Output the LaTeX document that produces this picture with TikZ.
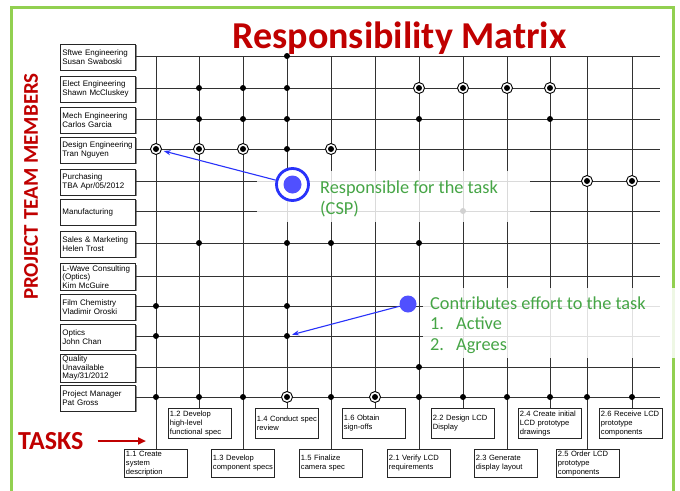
\documentclass[tikz,border=0pt]{standalone}
\usepackage{fontspec}
\setmainfont{Liberation Sans}
\newfontfamily\calfont{Carlito}
\usetikzlibrary{arrows.meta,shadows}
\definecolor{ttred}{RGB}{192,0,0}
\definecolor{bordergreen}{RGB}{146,208,80}
\definecolor{leggreen}{RGB}{70,165,70}
\definecolor{legblue}{RGB}{80,80,255}
\definecolor{ringblue}{RGB}{40,50,250}
\definecolor{gridgray}{RGB}{50,50,50}
\begin{document}
\begin{tikzpicture}[x=1pt,y=-1pt,
  lblbox/.style={draw=black!85, line width=0.8pt, fill=white,
    drop shadow={shadow xshift=1.2pt, shadow yshift=-1.2pt, fill=black!45, opacity=1},
    minimum width=75pt, minimum height=26pt, inner sep=1.5pt, text width=71pt,
    align=left, font=\fontsize{8}{8.8}\selectfont, anchor=west},
  taskbox/.style={draw=black!85, line width=0.9pt, fill=white, minimum width=63pt,
    text width=60pt, inner sep=1.5pt, align=left,
    font=\fontsize{7.6}{9}\selectfont, anchor=north west},
  gridline/.style={draw=gridgray, line width=0.95pt},
  sdot/.style={circle, fill=black, inner sep=0pt, minimum size=6pt},
  rdot/.style={circle, draw=black, line width=0.9pt, fill=white, inner sep=0pt,
    minimum size=11pt, path picture={\fill[black] (path picture bounding box.center) circle (3pt);}},
  legtext/.style={anchor=base west, text=leggreen, inner sep=0pt,
    font=\calfont\fontsize{18.3}{21}\selectfont},
  legarrow/.style={draw=ringblue, line width=1.1pt, -{Stealth[length=7pt,width=5pt]}},
]
\useasboundingbox (0,0) rectangle (680,490);
\fill[white] (0,0) rectangle (680,490);

% border
\draw[bordergreen, line width=3pt] (11,495) -- (11,7) -- (673,7) -- (673,495);

% title and side labels
\node[anchor=base, text=ttred, inner sep=0pt, font=\calfont\bfseries\fontsize{38}{38}\selectfont] (title) at (399.5,48) {Responsibility Matrix};
\node[rotate=90, text=ttred, inner sep=0pt, font=\calfont\bfseries\fontsize{21}{21}\selectfont] (members) at (31,186.5) {PROJECT TEAM MEMBERS};
\node[anchor=west, text=ttred, inner sep=0pt, font=\calfont\bfseries\fontsize{26}{26}\selectfont] (tasks) at (18,441) {TASKS};
\coordinate (tasksend) at (146,441);
\draw[ttred, line width=2.3pt, shorten <=14pt, -{Triangle[length=8pt,width=7pt]}] (tasks.east) -- (tasksend);

% grid coordinates
\foreach \r/\y in {1/56,2/88,3/119,4/149,5/181,6/211,7/243,8/276,9/306,10/336,11/367,12/397}{
  \coordinate (hend\r) at (660,\y);
  \foreach \c/\x in {1/156,2/199,3/243,4/287,5/331,6/375,7/419,8/463,9/507,10/550,11/587,12/632}{
    \coordinate (g\r-\c) at (\x,\y);
  }
}

% task boxes
\foreach \c/\lx/\ty/\h/\txt in {
  1/124/449/28/{1.1 Create\\system\\description},
  2/168/408/30/{1.2 Develop\\high-level\\functional spec},
  3/211/449/28/{1.3 Develop\\component specs},
  4/255/408/30/{1.4 Conduct spec\\review},
  5/299/449/28/{1.5 Finalize\\camera spec},
  6/342/408/30/{1.6 Obtain\\sign-offs},
  7/387/449/28/{2.1 Verify LCD\\requirements},
  8/431/408/30/{2.2 Design LCD\\Display},
  9/474/449/28/{2.3 Generate\\display layout},
  10/518/408/30/{2.4 Create initial\\LCD prototype\\drawings},
  11/556/449/28/{2.5 Order LCD\\prototype\\components},
  12/599/408/30/{2.6 Receive LCD\\prototype\\components}}{
  \node[taskbox, minimum height=\h pt] (task\c) at (\lx,\ty) {\txt};
}

% label boxes
\foreach \r/\txt in {
  1/{Sftwe Engineering\\Susan Swaboski},
  2/{Elect Engineering\\Shawn McCluskey},
  3/{Mech Engineering\\Carlos Garcia},
  4/{Design Engineering\\Tran Nguyen},
  5/{Purchasing\\TBA Apr/05/2012},
  6/{Manufacturing},
  7/{Sales \& Marketing\\Helen Trost},
  8/{L-Wave Consulting\\(Optics)\\Kim McGuire},
  9/{Film Chemistry\\Vladimir Oroski},
  10/{Optics\\John Chan},
  11/{Quality\\Unavailable\\May/31/2012},
  12/{Project Manager\\Pat Gross}}{
  \node[lblbox] (lbl\r) at ([yshift=-1pt]60,0 |- g\r-1) {\txt};
}

% grid lines
\foreach \r in {1,...,12}{
  \draw[gridline] (lbl\r.east |- g\r-1) -- (hend\r);
}
\foreach \c in {1,...,12}{
  \draw[gridline] (g1-\c) -- (g1-\c |- task\c.north);
}

% dots: contributors
\foreach \p in {1-4, 2-2,2-3,2-4, 3-2,3-3,3-4,3-7,3-10, 4-4, 6-8,
  7-2,7-4,7-5,7-7, 9-1,9-4, 10-1,10-4, 11-7,
  12-1,12-2,12-3,12-5,12-7,12-8,12-9,12-10,12-11,12-12}{
  \node[sdot] (d\p) at (g\p) {};
}
% dots: responsible
\foreach \p in {2-7,2-8,2-9,2-10, 4-1,4-2,4-3,4-5, 5-11,5-12, 12-4,12-6}{
  \node[rdot] (d\p) at (g\p) {};
}

% translucent legend backgrounds
\fill[white, opacity=0.82] (257,171) rectangle (530,222);
\fill[white, opacity=0.85] (423,288) rectangle (680,358);

% legend 1: responsible
\node[circle, draw=ringblue, line width=2.8pt, fill=white, minimum size=32pt, inner sep=0pt] (ring) at (292.5,184.5) {};
\node[circle, fill=legblue, minimum size=18pt, inner sep=0pt] (ringdot) at (ring) {};
\node[legtext] (resp1) at (320,193.3) {Responsible for the task};
\node[legtext] (resp2) at (320,214.5) {(CSP)};
\draw[legarrow, shorten >=2pt] (ring) -- (d4-1);

% legend 2: contributes
\node[circle, fill=legblue, minimum size=17pt, inner sep=0pt] (contrib) at (408,304) {};
\node[legtext] (con1) at (430,309) {Contributes effort to the task};
\node[legtext] (con2) at (430,329.5) {1.};
\node[legtext] (con2b) at (456,329.5) {Active};
\node[legtext] (con3) at (430,350) {2.};
\node[legtext] (con3b) at (456,350) {Agrees};
\draw[legarrow, shorten >=2pt] (contrib) -- (d10-4);
\end{tikzpicture}
\end{document}
